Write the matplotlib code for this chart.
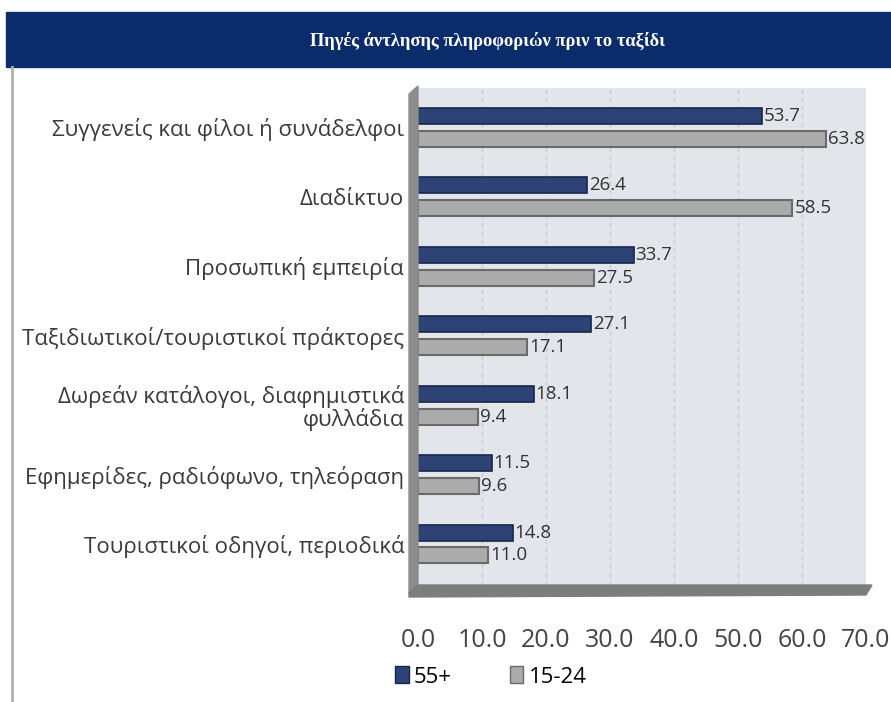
import numpy as np
import matplotlib.pyplot as plt
from matplotlib.patches import Rectangle, Polygon

categories = [
    "Συγγενείς και φίλοι ή συνάδελφοι",
    "Διαδίκτυο",
    "Προσωπική εμπειρία",
    "Ταξιδιωτικοί/τουριστικοί πράκτορες",
    "Δωρεάν κατάλογοι, διαφημιστικά\nφυλλάδια",
    "Εφημερίδες, ραδιόφωνο, τηλεόραση",
    "Τουριστικοί οδηγοί, περιοδικά",
]
age_55 = [53.7, 26.4, 33.7, 27.1, 18.1, 11.5, 14.8]
age_15_24 = [63.8, 58.5, 27.5, 17.1, 9.4, 9.6, 11.0]
xticks = [0, 10, 20, 30, 40, 50, 60, 70]
title = "Πηγές άντλησης πληροφοριών πριν το ταξίδι"

W, H = 891, 702
fig = plt.figure(figsize=(W / 100, H / 100), dpi=100)
fig.patch.set_facecolor("white")

def fx(px):
    return px / W

def fy(py):
    return 1 - py / H

# title banner and page border
fig.patches.append(Rectangle((fx(6), fy(67)), 1 - fx(6), fy(12) - fy(67),
                             transform=fig.transFigure, color="#0b2c6a", zorder=0))
fig.lines.append(plt.Line2D([fx(12), fx(12)], [0, fy(67)], transform=fig.transFigure,
                            color="#b0b0b0", lw=2))
fig.text(0.547, fy(41), title, color="white", ha="center", va="center",
         fontsize=13.3, fontweight="bold", family="Liberation Serif")

left, right, top, bottom = 418, 866, 88, 585
ax = fig.add_axes([fx(left), fy(bottom), fx(right) - fx(left), fy(top) - fy(bottom)])
ax.set_facecolor("#e2e5ea")
ax.set_xlim(0, 70)
ax.set_ylim(6.59, -0.565)

# side wall and floor
fig.patches.append(Polygon([(fx(409), fy(94)), (fx(418), fy(86)), (fx(418), fy(bottom)),
                            (fx(409), fy(593))], closed=True, transform=fig.transFigure,
                           color="#8c8c8c", zorder=5))
fig.patches.append(Polygon([(fx(409), fy(593)), (fx(418), fy(bottom)), (fx(872), fy(bottom)),
                            (fx(866), fy(595)), (fx(409), fy(597))], closed=True,
                           transform=fig.transFigure, color="#7d7d7d", zorder=5))

y = np.arange(len(categories))
h = 0.23
off = 0.165
ax.barh(y - off, age_55, height=h, color="#2d4275", edgecolor="#18264d", lw=1.2, zorder=3)
ax.barh(y + off, age_15_24, height=h, color="#ababab", edgecolor="#6a6a6a", lw=1.5, zorder=3)

for yi, v in zip(y, age_55):
    ax.text(v + 0.3, yi - off, f"{v:.1f}", va="center", ha="left", fontsize=13.5,
            color="#333333", family="Open Sans")
for yi, v in zip(y, age_15_24):
    ax.text(v + 0.3, yi + off, f"{v:.1f}", va="center", ha="left", fontsize=13.5,
            color="#333333", family="Open Sans")

for x in xticks[1:]:
    ax.axvline(x, color="#c8ccd2", lw=1, ls=(0, (3, 3)), zorder=1)

ax.set_xticks(xticks)
ax.set_xticklabels([f"{t:.1f}" for t in xticks], fontsize=18, color="#444444",
                   family="Open Sans")
ax.tick_params(axis="x", length=0, pad=31)
ax.set_yticks(y)
ax.set_yticklabels(categories, fontsize=16, color="#3a3a3a", family="Open Sans",
                   linespacing=1.0)
ax.tick_params(axis="y", length=0, pad=10)
for s in ax.spines.values():
    s.set_visible(False)

handles = [Rectangle((0, 0), 1, 1, fc="#2d4275", ec="#18264d"),
           Rectangle((0, 0), 1, 1, fc="#ababab", ec="#6a6a6a")]
fig.legend(handles, ["55+", "15-24"], loc="center", bbox_to_anchor=(fx(491), fy(677)),
           ncol=2, frameon=False, handlelength=0.6, handleheight=0.8, handletextpad=0.25,
           columnspacing=2.6, prop={"family": "Open Sans", "size": 16})

fig.savefig("out.png", dpi=100, facecolor="white")
